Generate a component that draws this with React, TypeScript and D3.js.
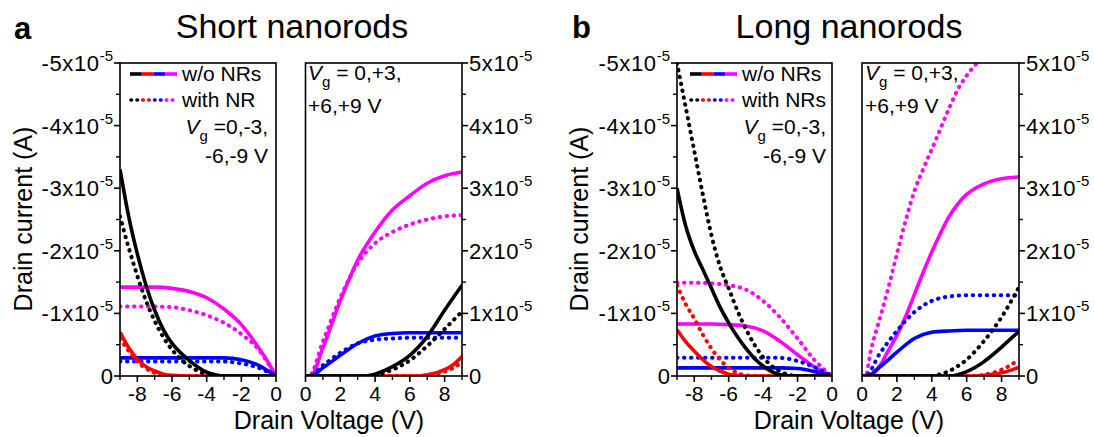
import React from 'react';
import * as d3 from 'd3';

const FONT = "'Liberation Sans', Arial, Helvetica, sans-serif";

// tick values (current in units of 1e-5 A)
const negXMajor = [-8, -6, -4, -2, 0];
const negXMinor = [-9, -7, -5, -3, -1];
const posXMajor = [0, 2, 4, 6, 8];
const posXMinor = [1, 3, 5, 7, 9];
const yMajor = [0, 1, 2, 3, 4, 5];
const yMinor = [0.5, 1.5, 2.5, 3.5, 4.5];

type Pt = [number, number];

// ---- a: Short nanorods, Vg = 0,-3,-6,-9 V (negative drain voltage)
const shortNegBlackWo: Pt[] = [[-9, -3.3], [-8.5, -2.55], [-8, -1.95], [-7.5, -1.45], [-7, -1.05], [-6.5, -0.74], [-6, -0.52], [-5.5, -0.37], [-5, -0.25], [-4.5, -0.14], [-4, -0.06], [-3.5, -0.02], [-3, 0], [-2, 0], [0, 0]];
const shortNegBlackWith: Pt[] = [[-9, -2.55], [-8.5, -2.05], [-8, -1.6], [-7.5, -1.2], [-7, -0.88], [-6.5, -0.62], [-6, -0.42], [-5.5, -0.27], [-5, -0.16], [-4.5, -0.08], [-4, -0.03], [-3.5, -0.01], [-3, 0], [-2, 0], [0, 0]];
const shortNegRedWo: Pt[] = [[-9, -0.7], [-8.5, -0.45], [-8, -0.27], [-7.5, -0.15], [-7, -0.08], [-6.5, -0.03], [-6, -0.01], [-5, 0], [-3, 0], [0, 0]];
const shortNegRedWith: Pt[] = [[-9, -0.6], [-8.5, -0.4], [-8, -0.23], [-7.5, -0.12], [-7, -0.05], [-6.5, -0.02], [-6, 0], [-3, 0], [0, 0]];
const shortNegBlueWo: Pt[] = [[-9, -0.29], [-7, -0.29], [-5, -0.29], [-3, -0.29], [-2, -0.26], [-1, -0.17], [-0.5, -0.09], [0, 0]];
const shortNegBlueWith: Pt[] = [[-9, -0.23], [-7, -0.23], [-5, -0.23], [-3, -0.23], [-2, -0.2], [-1, -0.13], [-0.5, -0.07], [0, 0]];
const shortNegMagWo: Pt[] = [[-9, -1.42], [-8, -1.42], [-7, -1.42], [-6, -1.4], [-5, -1.35], [-4, -1.25], [-3, -1.07], [-2, -0.82], [-1, -0.45], [-0.5, -0.24], [0, 0]];
const shortNegMagWith: Pt[] = [[-9, -1.11], [-8, -1.11], [-7, -1.11], [-6, -1.1], [-5, -1.05], [-4, -0.97], [-3, -0.85], [-2, -0.67], [-1, -0.42], [-0.5, -0.22], [0, 0]];

// ---- a: Short nanorods, Vg = 0,+3,+6,+9 V (positive drain voltage)
const shortPosBlackWo: Pt[] = [[0, 0], [3, 0], [3.5, 0], [4, 0.03], [5, 0.15], [6, 0.33], [7, 0.63], [8, 1.05], [9, 1.45]];
const shortPosBlackWith: Pt[] = [[0, 0], [3.5, 0], [4, 0.02], [5, 0.1], [6, 0.25], [7, 0.48], [8, 0.75], [9, 1.03]];
const shortPosRedWo: Pt[] = [[0, 0], [6.5, 0], [7, 0.02], [7.5, 0.05], [8, 0.1], [8.5, 0.18], [9, 0.31]];
const shortPosRedWith: Pt[] = [[0, 0], [6.5, 0], [7, 0.01], [8, 0.07], [8.5, 0.13], [9, 0.22]];
const shortPosBlueWo: Pt[] = [[0, 0], [0.3, 0], [1, 0.13], [2, 0.33], [3, 0.52], [4, 0.64], [5, 0.68], [6, 0.69], [7, 0.69], [9, 0.69]];
const shortPosBlueWith: Pt[] = [[0, 0], [0.2, 0], [1, 0.17], [2, 0.37], [3, 0.52], [4, 0.58], [5, 0.6], [6, 0.61], [9, 0.61]];
const shortPosMagWo: Pt[] = [[0, 0], [0.3, 0], [1, 0.45], [2, 1.2], [3, 1.85], [4, 2.3], [5, 2.65], [6, 2.88], [7, 3.08], [8, 3.2], [9, 3.26]];
const shortPosMagWith: Pt[] = [[0, 0], [0.2, 0], [1, 0.55], [2, 1.25], [3, 1.8], [4, 2.12], [5, 2.3], [6, 2.42], [7, 2.5], [8, 2.55], [9, 2.57]];

// ---- b: Long nanorods, negative drain voltage
const longNegBlackWo: Pt[] = [[-9, -3.0], [-8.5, -2.4], [-8, -2.0], [-7.5, -1.7], [-7, -1.4], [-6.5, -1.1], [-6, -0.85], [-5.5, -0.63], [-5, -0.44], [-4.5, -0.28], [-4, -0.16], [-3.5, -0.07], [-3, -0.02], [-2, 0], [0, 0]];
const longNegBlackWith: Pt[] = [[-9, -5.0], [-8.5, -4.3], [-8, -3.6], [-7.5, -2.9], [-7, -2.25], [-6.5, -1.75], [-6, -1.4], [-5.5, -1.05], [-5, -0.75], [-4.5, -0.5], [-4, -0.3], [-3.5, -0.16], [-3, -0.07], [-2.5, -0.02], [-2, 0], [0, 0]];
const longNegRedWo: Pt[] = [[-9, -0.74], [-8.5, -0.55], [-8, -0.4], [-7.5, -0.26], [-7, -0.15], [-6.5, -0.08], [-6, -0.03], [-5.5, -0.01], [-5, 0], [0, 0]];
const longNegRedWith: Pt[] = [[-9, -1.45], [-8.5, -1.15], [-8, -0.92], [-7.5, -0.66], [-7, -0.44], [-6.5, -0.26], [-6, -0.13], [-5.5, -0.05], [-5, -0.01], [-4, 0], [0, 0]];
const longNegBlueWo: Pt[] = [[-9, -0.13], [-6, -0.13], [-3, -0.13], [-2, -0.12], [-1, -0.07], [0, 0]];
const longNegBlueWith: Pt[] = [[-9, -0.29], [-6, -0.29], [-3, -0.29], [-2, -0.24], [-1, -0.14], [0, 0]];
const longNegMagWo: Pt[] = [[-9, -0.83], [-8, -0.83], [-7, -0.83], [-6, -0.82], [-5, -0.8], [-4, -0.72], [-3, -0.55], [-2, -0.34], [-1, -0.14], [0, 0]];
const longNegMagWith: Pt[] = [[-9, -1.49], [-8, -1.49], [-7, -1.48], [-6, -1.45], [-5, -1.38], [-4, -1.2], [-3, -0.93], [-2, -0.6], [-1, -0.25], [0, 0]];

// ---- b: Long nanorods, positive drain voltage
const longPosBlackWo: Pt[] = [[0, 0], [5, 0], [5.5, 0.02], [6, 0.07], [6.5, 0.14], [7, 0.23], [7.5, 0.34], [8, 0.46], [8.5, 0.59], [9, 0.71]];
const longPosBlackWith: Pt[] = [[0, 0], [4, 0], [4.5, 0.03], [5, 0.08], [5.5, 0.16], [6, 0.26], [6.5, 0.4], [7, 0.56], [7.5, 0.74], [8, 0.94], [8.5, 1.17], [9, 1.42]];
const longPosRedWo: Pt[] = [[0, 0], [6.5, 0], [7, 0.01], [8, 0.05], [8.5, 0.09], [9, 0.14]];
const longPosRedWith: Pt[] = [[0, 0], [6.5, 0], [7, 0.02], [7.5, 0.05], [8, 0.1], [8.5, 0.17], [9, 0.27]];
const longPosBlueWo: Pt[] = [[0, 0], [0.3, 0], [1, 0.14], [2, 0.38], [3, 0.6], [4, 0.7], [5, 0.72], [6, 0.73], [9, 0.73]];
const longPosBlueWith: Pt[] = [[0, 0], [0.2, 0], [1, 0.35], [2, 0.72], [3, 1.02], [4, 1.2], [5, 1.27], [6, 1.29], [9, 1.29]];
const longPosMagWo: Pt[] = [[0, 0], [0.4, 0], [1, 0.15], [1.5, 0.4], [2, 0.65], [2.5, 0.95], [3, 1.3], [3.5, 1.65], [4, 1.98], [4.5, 2.28], [5, 2.55], [5.5, 2.75], [6, 2.9], [6.5, 3.0], [7, 3.07], [7.5, 3.12], [8, 3.15], [9, 3.18]];
const longPosMagWith: Pt[] = [[0, 0], [0.2, 0], [0.5, 0.4], [1, 0.9], [1.5, 1.4], [2, 1.95], [2.5, 2.48], [3, 2.95], [3.5, 3.3], [4, 3.62], [4.5, 3.95], [5, 4.28], [5.5, 4.58], [6, 4.8], [6.5, 4.97], [7, 5.12]];

const BLACK = '#000000';
const RED = '#ff0000';
const BLUE = '#0000ff';
const MAGENTA = '#ff00ff';

type Series = { data: Pt[]; color: string; dotted: boolean };

const mk = (data: Pt[], color: string, dotted: boolean): Series => ({ data, color, dotted });

const shortNeg: Series[] = [
  mk(shortNegMagWith, MAGENTA, true), mk(shortNegMagWo, MAGENTA, false),
  mk(shortNegBlueWith, BLUE, true), mk(shortNegBlueWo, BLUE, false),
  mk(shortNegRedWith, RED, true), mk(shortNegRedWo, RED, false),
  mk(shortNegBlackWith, BLACK, true), mk(shortNegBlackWo, BLACK, false),
];
const shortPos: Series[] = [
  mk(shortPosMagWith, MAGENTA, true), mk(shortPosMagWo, MAGENTA, false),
  mk(shortPosBlueWith, BLUE, true), mk(shortPosBlueWo, BLUE, false),
  mk(shortPosRedWith, RED, true), mk(shortPosRedWo, RED, false),
  mk(shortPosBlackWith, BLACK, true), mk(shortPosBlackWo, BLACK, false),
];
const longNeg: Series[] = [
  mk(longNegMagWith, MAGENTA, true), mk(longNegMagWo, MAGENTA, false),
  mk(longNegBlueWith, BLUE, true), mk(longNegBlueWo, BLUE, false),
  mk(longNegRedWith, RED, true), mk(longNegRedWo, RED, false),
  mk(longNegBlackWith, BLACK, true), mk(longNegBlackWo, BLACK, false),
];
const longPos: Series[] = [
  mk(longPosMagWith, MAGENTA, true), mk(longPosMagWo, MAGENTA, false),
  mk(longPosBlueWith, BLUE, true), mk(longPosBlueWo, BLUE, false),
  mk(longPosRedWith, RED, true), mk(longPosRedWo, RED, false),
  mk(longPosBlackWith, BLACK, true), mk(longPosBlackWo, BLACK, false),
];

const TOP = 63;
const BOTTOM = 376;
const TICK_FS = 22;

type SubProps = { id: string; x0: number; x1: number; neg: boolean; series: Series[] };

function Subplot({ id, x0, x1, neg, series }: SubProps) {
  const xs = d3.scaleLinear().domain(neg ? [-9, 0] : [0, 9]).range([x0, x1]);
  const ys = d3.scaleLinear().domain([0, neg ? -5 : 5]).range([BOTTOM, TOP]);
  const line = d3.line<Pt>().x(d => xs(d[0])).y(d => ys(d[1])).curve(d3.curveMonotoneX);
  const axisX = neg ? x0 : x1;
  const dir = neg ? -1 : 1;
  const xMajor = neg ? negXMajor : posXMajor;
  const xMinor = neg ? negXMinor : posXMinor;
  return (
    <g>
      <defs>
        <clipPath id={id}>
          <rect x={x0} y={TOP} width={x1 - x0} height={BOTTOM - TOP} />
        </clipPath>
      </defs>
      <g clipPath={`url(#${id})`}>
        {series.map((s, i) => (
          <path key={i} d={line(s.data) || ''} fill="none" stroke={s.color}
            strokeWidth={s.dotted ? 4 : 3.6}
            strokeDasharray={s.dotted ? '0.5 6.5' : undefined}
            strokeLinecap={s.dotted ? 'round' : 'butt'} strokeLinejoin="round" />
        ))}
      </g>
      <rect x={x0} y={TOP} width={x1 - x0} height={BOTTOM - TOP} fill="none" stroke="#000" strokeWidth={1.6} />
      {yMajor.map(t => (
        <line key={'ym' + t} x1={axisX} x2={axisX + dir * 6} y1={ys(neg ? -t : t)} y2={ys(neg ? -t : t)} stroke="#000" strokeWidth={1.6} />
      ))}
      {yMinor.map(t => (
        <line key={'yn' + t} x1={axisX} x2={axisX + dir * 4} y1={ys(neg ? -t : t)} y2={ys(neg ? -t : t)} stroke="#000" strokeWidth={1.4} />
      ))}
      {yMajor.map(t => (
        <text key={'yl' + t} x={axisX + dir * 7} y={ys(neg ? -t : t) + 8} fontSize={TICK_FS} fontFamily={FONT}
          textAnchor={neg ? 'end' : 'start'} fill="#000">
          {t === 0 ? '0' : (
            <>
              <tspan letterSpacing={0.6}>{(neg ? '-' : '') + t + 'x10'}</tspan>
              <tspan fontSize={15} dy={-10}>-5</tspan>
            </>
          )}
        </text>
      ))}
      {xMajor.map(t => (
        <line key={'xm' + t} x1={xs(t)} x2={xs(t)} y1={BOTTOM} y2={BOTTOM + 6} stroke="#000" strokeWidth={1.6} />
      ))}
      {xMinor.map(t => (
        <line key={'xn' + t} x1={xs(t)} x2={xs(t)} y1={BOTTOM} y2={BOTTOM + 4} stroke="#000" strokeWidth={1.4} />
      ))}
      {xMajor.map(t => (
        <text key={'xl' + t} x={xs(t)} y={BOTTOM + 25} fontSize={21} fontFamily={FONT} textAnchor="middle" fill="#000">{t}</text>
      ))}
    </g>
  );
}

function LegendNeg({ x0, right, withLabel }: { x0: number; right: number; withLabel: string }) {
  const seg = [BLACK, RED, BLUE, MAGENTA];
  const w = 47;
  return (
    <g fontFamily={FONT} fontSize={21} fill="#000">
      {seg.map((c, i) => (
        <line key={'s' + i} x1={x0 + (i * w) / 4} x2={x0 + ((i + 1) * w) / 4} y1={74} y2={74} stroke={c} strokeWidth={3.6} />
      ))}
      {seg.map((c, i) => (
        <line key={'d' + i} x1={x0 + (i * w) / 4 + 1} x2={x0 + ((i + 1) * w) / 4} y1={100} y2={100} stroke={c} strokeWidth={3.6}
          strokeDasharray="0.5 5.5" strokeLinecap="round" />
      ))}
      <text x={x0 + w + 5} y={81}>w/o NRs</text>
      <text x={x0 + w + 5} y={107}>{withLabel}</text>
      <text x={right} y={134} textAnchor="end">
        <tspan fontStyle="italic">V</tspan>
        <tspan fontSize={15} dy={7}>g</tspan>
        <tspan dy={-7}> =0,-3,</tspan>
      </text>
      <text x={right} y={163} textAnchor="end">-6,-9 V</text>
    </g>
  );
}

function LegendPos({ x }: { x: number }) {
  return (
    <g fontFamily={FONT} fontSize={21} fill="#000">
      <text x={x} y={80}>
        <tspan fontStyle="italic">V</tspan>
        <tspan fontSize={15} dy={7}>g</tspan>
        <tspan dy={-7}> = 0,+3,</tspan>
      </text>
      <text x={x} y={113}>+6,+9 V</text>
    </g>
  );
}

export default function App() {
  return (
    <svg width={1094} height={437} style={{ position: 'absolute', left: 0, top: 0, background: '#fff' }}>
      <rect x={0} y={0} width={1094} height={437} fill="#fff" />
      <text x={14} y={39} fontSize={31} fontWeight="bold" fontFamily={FONT}>a</text>
      <text x={572} y={38} fontSize={31} fontWeight="bold" fontFamily={FONT}>b</text>
      <text x={292} y={38} fontSize={34} fontFamily={FONT} textAnchor="middle">Short nanorods</text>
      <text x={849} y={38} fontSize={34} fontFamily={FONT} textAnchor="middle">Long nanorods</text>

      <Subplot id="c1" x0={120} x1={276} neg={true} series={shortNeg} />
      <Subplot id="c2" x0={305.5} x1={462} neg={false} series={shortPos} />
      <Subplot id="c3" x0={677} x1={832} neg={true} series={longNeg} />
      <Subplot id="c4" x0={862} x1={1019} neg={false} series={longPos} />

      <LegendNeg x0={130} right={268} withLabel="with NR" />
      <LegendNeg x0={690} right={826} withLabel="with NRs" />
      <LegendPos x={308} />
      <LegendPos x={865} />

      <text transform="translate(32,219) rotate(-90)" fontSize={25} fontFamily={FONT} textAnchor="middle">Drain current (A)</text>
      <text transform="translate(588,219) rotate(-90)" fontSize={25} fontFamily={FONT} textAnchor="middle">Drain current (A)</text>
      <text x={329} y={429} fontSize={25} fontFamily={FONT} textAnchor="middle">Drain Voltage (V)</text>
      <text x={849} y={429} fontSize={25} fontFamily={FONT} textAnchor="middle">Drain Voltage (V)</text>
    </svg>
  );
}
